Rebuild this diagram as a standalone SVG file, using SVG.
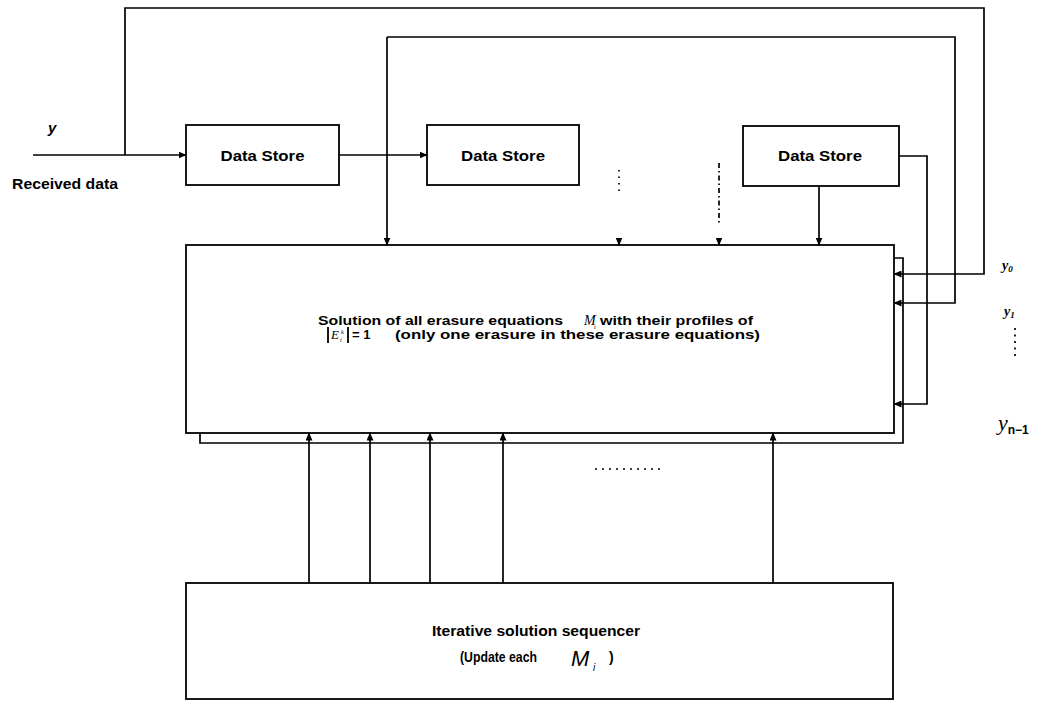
<svg xmlns="http://www.w3.org/2000/svg" width="1039" height="703" viewBox="0 0 1039 703">
<style>
.box{fill:#fff;stroke:#000;stroke-width:1.8}
.ln{fill:none;stroke:#000;stroke-width:1.7}
.arr{marker-end:url(#ah)}
.lbl{font-family:"Liberation Sans",Arial,sans-serif;font-weight:bold;fill:#000}
.math{font-family:"Liberation Serif","Times New Roman",serif;font-style:italic;fill:#000}
.msans{font-family:"Liberation Sans",Arial,sans-serif;font-style:italic;fill:#000}
</style>
<defs>
<marker id="ah" markerWidth="8" markerHeight="7" refX="7.5" refY="3.5" orient="auto" markerUnits="userSpaceOnUse">
<path d="M0,0 L8,3.5 L0,7 z" fill="#000"/>
</marker>
</defs>
<rect width="1039" height="703" fill="#fff"/>

<g id="connectors">
<path class="ln arr" d="M33,155 H186"/>
<path class="ln arr" d="M125,155 V8 H984 V274 H894"/>
<path class="ln arr" d="M339,155 H427"/>
<path class="ln arr" d="M387,37 V245"/>
<path class="ln arr" d="M387,37 H955 V303 H894"/>
<path class="ln arr" d="M899,156 H927 V404 H894"/>
<path class="ln arr" d="M819,186 V245"/>
<path class="ln" d="M619,170 V192" stroke-dasharray="1.5 5"/>
<path class="ln arr" d="M619,238 V245"/>
<path class="ln" d="M719,163 V225" stroke-dasharray="5 3 1.5 3"/>
<path class="ln arr" d="M719,238 V245"/>
<path class="ln" d="M894,258 H903 V443 H200 V433"/>
<path class="ln arr" d="M309,583 V433"/>
<path class="ln arr" d="M370,583 V433"/>
<path class="ln arr" d="M430,583 V433"/>
<path class="ln arr" d="M503,583 V433"/>
<path class="ln arr" d="M773,583 V433"/>
<path class="ln" d="M595,469 H665" stroke-dasharray="2 5" stroke-width="1.5"/>
<path class="ln" d="M1015,328 V358" stroke-dasharray="2 4.5" stroke-width="2"/>
</g>

<g id="input-label">
<text class="lbl" x="48" y="133" font-size="15" font-style="italic">y</text>
<text class="lbl" x="12" y="189" font-size="14" textLength="106" lengthAdjust="spacingAndGlyphs">Received data</text>
</g>

<g id="ds1">
<rect class="box" x="186" y="125" width="153" height="60"/>
<text class="lbl" x="262.5" y="161" font-size="15" text-anchor="middle" textLength="84" lengthAdjust="spacingAndGlyphs">Data Store</text>
</g>
<g id="ds2">
<rect class="box" x="427" y="125" width="152" height="60"/>
<text class="lbl" x="503" y="161" font-size="15" text-anchor="middle" textLength="84" lengthAdjust="spacingAndGlyphs">Data Store</text>
</g>
<g id="ds3">
<rect class="box" x="743" y="126" width="156" height="60"/>
<text class="lbl" x="820" y="161" font-size="15" text-anchor="middle" textLength="84" lengthAdjust="spacingAndGlyphs">Data Store</text>
</g>

<g id="solver">
<rect class="box" x="186" y="245" width="708" height="188"/>
<text class="lbl" x="318" y="325" font-size="13.5" textLength="245" lengthAdjust="spacingAndGlyphs">Solution of all erasure equations</text>
<text class="math" x="584" y="325" font-size="14">M</text>
<text class="math" x="594" y="329" font-size="6">i</text>
<text class="lbl" x="600" y="325" font-size="13.5" textLength="153" lengthAdjust="spacingAndGlyphs">with their profiles of</text>
<line x1="328" y1="327" x2="328" y2="343" stroke="#000" stroke-width="1.8"/>
<text class="math" x="331" y="339" font-size="13">E</text>
<text class="math" x="340" y="342" font-size="6">i</text>
<text class="math" x="341" y="334" font-size="6">k</text>
<line x1="348" y1="327" x2="348" y2="343" stroke="#000" stroke-width="1.8"/>
<text class="lbl" x="352" y="339" font-size="13" font-weight="normal">= 1</text>
<text class="lbl" x="395" y="339" font-size="13.5" textLength="365" lengthAdjust="spacingAndGlyphs">(only one erasure in these erasure equations)</text>
</g>

<g id="sequencer">
<rect class="box" x="186" y="583" width="707" height="116"/>
<text class="lbl" x="536" y="636" font-size="14" text-anchor="middle" textLength="208" lengthAdjust="spacingAndGlyphs">Iterative solution sequencer</text>
<text class="lbl" x="460" y="662" font-size="14" textLength="77" lengthAdjust="spacingAndGlyphs">(Update each</text>
<text class="msans" x="571" y="666" font-size="22">M</text>
<text class="msans" x="593" y="671" font-size="10">i</text>
<text class="lbl" x="609" y="662" font-size="14">)</text>
</g>

<g id="output-labels">
<text class="math" x="1002" y="270" font-size="14" font-weight="bold">y<tspan font-size="9" dy="2">0</tspan></text>
<text class="math" x="1004" y="316" font-size="14" font-weight="bold">y<tspan font-size="9" dy="2">1</tspan></text>
<text class="math" x="998" y="430" font-size="22">y<tspan class="lbl" font-style="normal" font-size="12" dy="4">n−1</tspan></text>
</g>
</svg>
